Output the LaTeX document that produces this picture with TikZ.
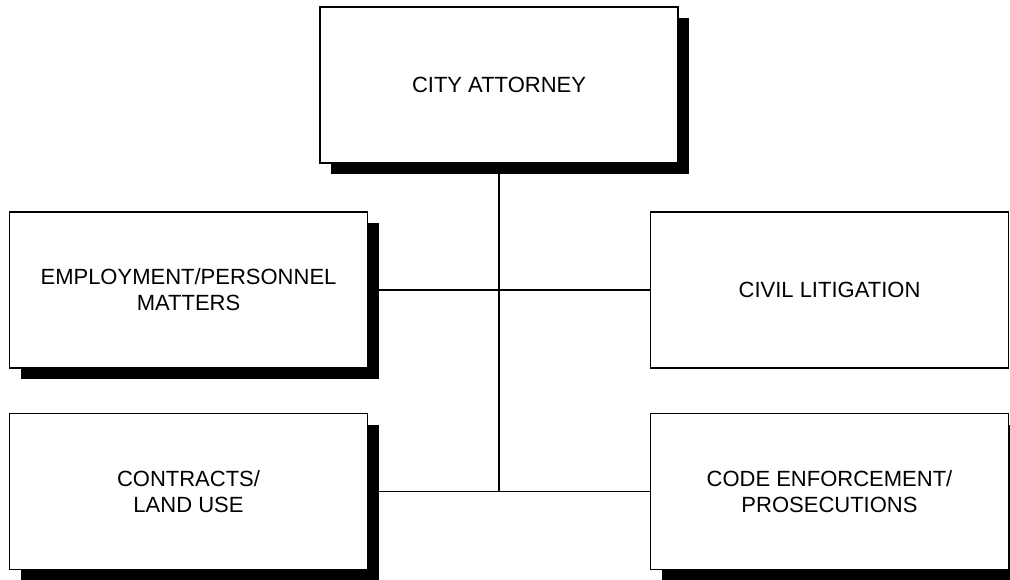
\documentclass[tikz,border=0pt]{standalone}
\usepackage{fontspec}
\setmainfont{Liberation Sans}
\usetikzlibrary{shadows,backgrounds}
\begin{document}
\begin{tikzpicture}[x=1pt,y=-1pt,
  unit/.style={draw=black, fill=white, line width=1.6pt,
    minimum width=358pt, minimum height=156pt, inner sep=0pt,
    align=center, font=\fontsize{22}{26}\selectfont},
  shadowed/.style={drop shadow={shadow xshift=11pt, shadow yshift=-11pt,
    fill=black, opacity=1}},
  link/.style={line width=1.6pt}]
\useasboundingbox (0,0) rectangle (1010,579);
\clip (0,0) rectangle (1010,579);

% head of the office
\node[unit, shadowed] (ca) at (499,85) {CITY ATTORNEY};

% divisions
\node[unit, shadowed] (emp)  at (188.5,290) {EMPLOYMENT/PERSONNEL\\MATTERS};
\node[unit]           (civ)  at (829.5,290) {CIVIL LITIGATION};
\node[unit, shadowed] (con)  at (188.5,491.5) {CONTRACTS/\\LAND USE};
\node[unit, shadowed] (code) at (829.5,491.5) {CODE ENFORCEMENT/\\PROSECUTIONS};

% reporting lines, behind the boxes
\begin{pgfonlayer}{background}
  \coordinate (trunk) at (ca.south |- con.east);
  \draw[link] (ca.south) -- (trunk);
  \draw[link] (emp.east) -- (civ.west);
  \draw[link] (con.east) -- (code.west);
\end{pgfonlayer}
\end{tikzpicture}
\end{document}
